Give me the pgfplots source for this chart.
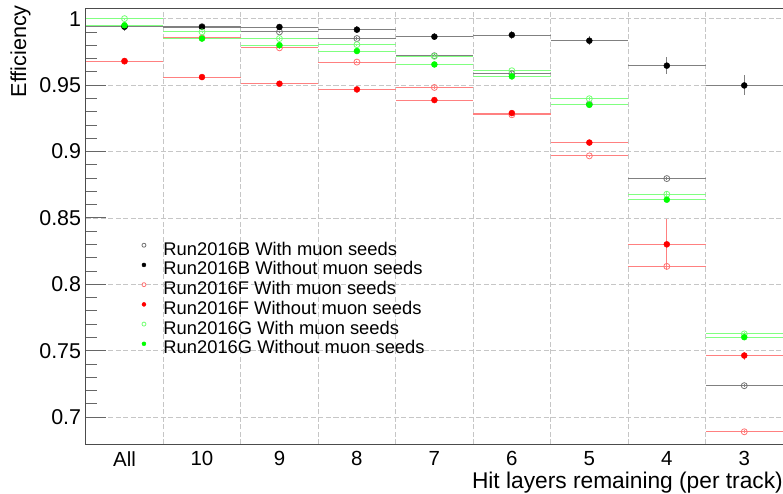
\documentclass[border=0pt]{standalone}
\usepackage{pgfplots}
\pgfplotsset{compat=1.18}
\usepackage{pgfplotstable}
\usepackage{fontspec}
\setmainfont{Liberation Sans}

\pgfplotstableread{
x y ex ey
0 0.9940 0.5 0.0010
1 0.9940 0.5 0.0010
2 0.9900 0.5 0.0010
3 0.9850 0.5 0.0010
4 0.9721 0.5 0.0010
5 0.9585 0.5 0.0010
6 0.9357 0.5 0.0010
7 0.8796 0.5 0.0012
8 0.7237 0.5 0.0012
}\Bwith
\pgfplotstableread{
x y ex ey
0 0.9940 0.5 0.0030
1 0.9937 0.5 0.0025
2 0.9937 0.5 0.0025
3 0.9917 0.5 0.0025
4 0.9864 0.5 0.0025
5 0.9877 0.5 0.0030
6 0.9834 0.5 0.0035
7 0.9646 0.5 0.0065
8 0.9497 0.5 0.0075
}\Bwithout
\pgfplotstableread{
x y ex ey
0 0.9680 0.5 0.0008
1 0.9855 0.5 0.0008
2 0.9780 0.5 0.0008
3 0.9673 0.5 0.0008
4 0.9482 0.5 0.0008
5 0.9276 0.5 0.0008
6 0.8967 0.5 0.0010
7 0.8135 0.5 0.0030
8 0.6890 0.5 0.0010
}\Fwith
\pgfplotstableread{
x y ex ey
0 0.9680 0.5 0.0008
1 0.9560 0.5 0.0008
2 0.9510 0.5 0.0008
3 0.9467 0.5 0.0008
4 0.9387 0.5 0.0008
5 0.9289 0.5 0.0010
6 0.9067 0.5 0.0012
7 0.8301 0.5 0.0190
8 0.7464 0.5 0.0030
}\Fwithout
\pgfplotstableread{
x y ex ey
0 1.0000 0.5 0.0008
1 0.9900 0.5 0.0008
2 0.9850 0.5 0.0008
3 0.9804 0.5 0.0008
4 0.9716 0.5 0.0008
5 0.9608 0.5 0.0008
6 0.9397 0.5 0.0010
7 0.8678 0.5 0.0015
8 0.7627 0.5 0.0015
}\Gwith
\pgfplotstableread{
x y ex ey
0 0.9950 0.5 0.0008
1 0.9850 0.5 0.0008
2 0.9800 0.5 0.0008
3 0.9756 0.5 0.0008
4 0.9655 0.5 0.0008
5 0.9565 0.5 0.0008
6 0.9351 0.5 0.0010
7 0.8637 0.5 0.0015
8 0.7602 0.5 0.0015
}\Gwithout

\pgfplotsset{
  eb/.style={only marks,
    /pgfplots/error bars/x dir=both, /pgfplots/error bars/x explicit,
    /pgfplots/error bars/y dir=both, /pgfplots/error bars/y explicit,
    /pgfplots/error bars/error mark=none,
    /pgfplots/error bars/error bar style={line width=0.9bp, #1}},
}
\newcommand{\legsp}{\hspace*{17.5bp}}

\begin{document}
\begin{tikzpicture}
\useasboundingbox (-85.7bp,-49bp) rectangle (696.6bp,444bp);
\begin{axis}[
  at={(0,0)}, anchor=south west,
  width=696.6bp, height=436bp, scale only axis,
  xmin=-0.5, xmax=8.5, ymin=0.6795, ymax=1.008,
  xtick={0,...,8}, xticklabels={All,10,9,8,7,6,5,4,3},
  minor xtick={-0.5,0.5,...,8.5},
  xtick style={draw=none},
  ytick={0.7,0.75,0.8,0.85,0.9,0.95,1},
  yticklabels={0.7,0.75,0.8,0.85,0.9,0.95,1},
  minor y tick num=4,
  tick align=inside, tick pos=left,
  major tick length=20bp, minor tick length=11bp,
  every tick/.style={black!60, line width=0.8bp},
  ymajorgrids, xminorgrids,
  grid style={gray!45, line width=0.7bp, dash pattern=on 5bp off 2.5bp},
  minor grid style={gray!45, line width=0.7bp, dash pattern=on 5bp off 2.5bp},
  axis line style={black!70, line width=0.9bp},
  yticklabel style={font=\fontsize{21.5}{25}\selectfont, anchor=east, inner sep=0pt, xshift=-4.5bp},
  xticklabel style={font=\fontsize{20.5}{24}\selectfont, anchor=north, inner sep=0pt, yshift=-7bp},
  legend style={at={(0.076,0.4683)}, anchor=north west, draw=none, fill=none,
    font=\fontsize{18.4}{22}\selectfont, row sep=2.7bp, column sep=0pt,
    nodes={inner sep=0pt, text height=13bp, text depth=4bp, anchor=west}},
  legend cell align=left,
  legend image post style={yshift=5.5bp, mark size=2bp},
]
\addplot[mark=o, mark size=3bp, mark options={draw=black!55, line width=0.8bp}, eb={black!50}]
  table[x=x, y=y, x error=ex, y error=ey] {\Bwith};
\addlegendentry{\legsp Run2016B With muon seeds}
\addplot[mark=*, mark size=3bp, mark options={draw=black, fill=black}, eb={black!50}]
  table[x=x, y=y, x error=ex, y error=ey] {\Bwithout};
\addlegendentry{\legsp Run2016B Without muon seeds}
\addplot[mark=o, mark size=3bp, mark options={draw=red!55, line width=0.8bp}, eb={red!50}]
  table[x=x, y=y, x error=ex, y error=ey] {\Fwith};
\addlegendentry{\legsp Run2016F With muon seeds}
\addplot[mark=*, mark size=3bp, mark options={draw=red, fill=red}, eb={red!50}]
  table[x=x, y=y, x error=ex, y error=ey] {\Fwithout};
\addlegendentry{\legsp Run2016F Without muon seeds}
\addplot[mark=o, mark size=3bp, mark options={draw=green!55, line width=0.8bp}, eb={green!50}]
  table[x=x, y=y, x error=ex, y error=ey] {\Gwith};
\addlegendentry{\legsp Run2016G With muon seeds}
\addplot[mark=*, mark size=3bp, mark options={draw=green, fill=green}, eb={green!50}]
  table[x=x, y=y, x error=ex, y error=ey] {\Gwithout};
\addlegendentry{\legsp Run2016G Without muon seeds}
\end{axis}
\node[rotate=90, anchor=base east, inner sep=0pt, font=\fontsize{21.7}{25}\selectfont] at (-59.7bp,439bp) {Efficiency};
\node[anchor=base east, inner sep=0pt, font=\fontsize{22.8}{26}\selectfont] at (696.6bp,-44bp) {Hit layers remaining (per track)};
\end{tikzpicture}
\end{document}
